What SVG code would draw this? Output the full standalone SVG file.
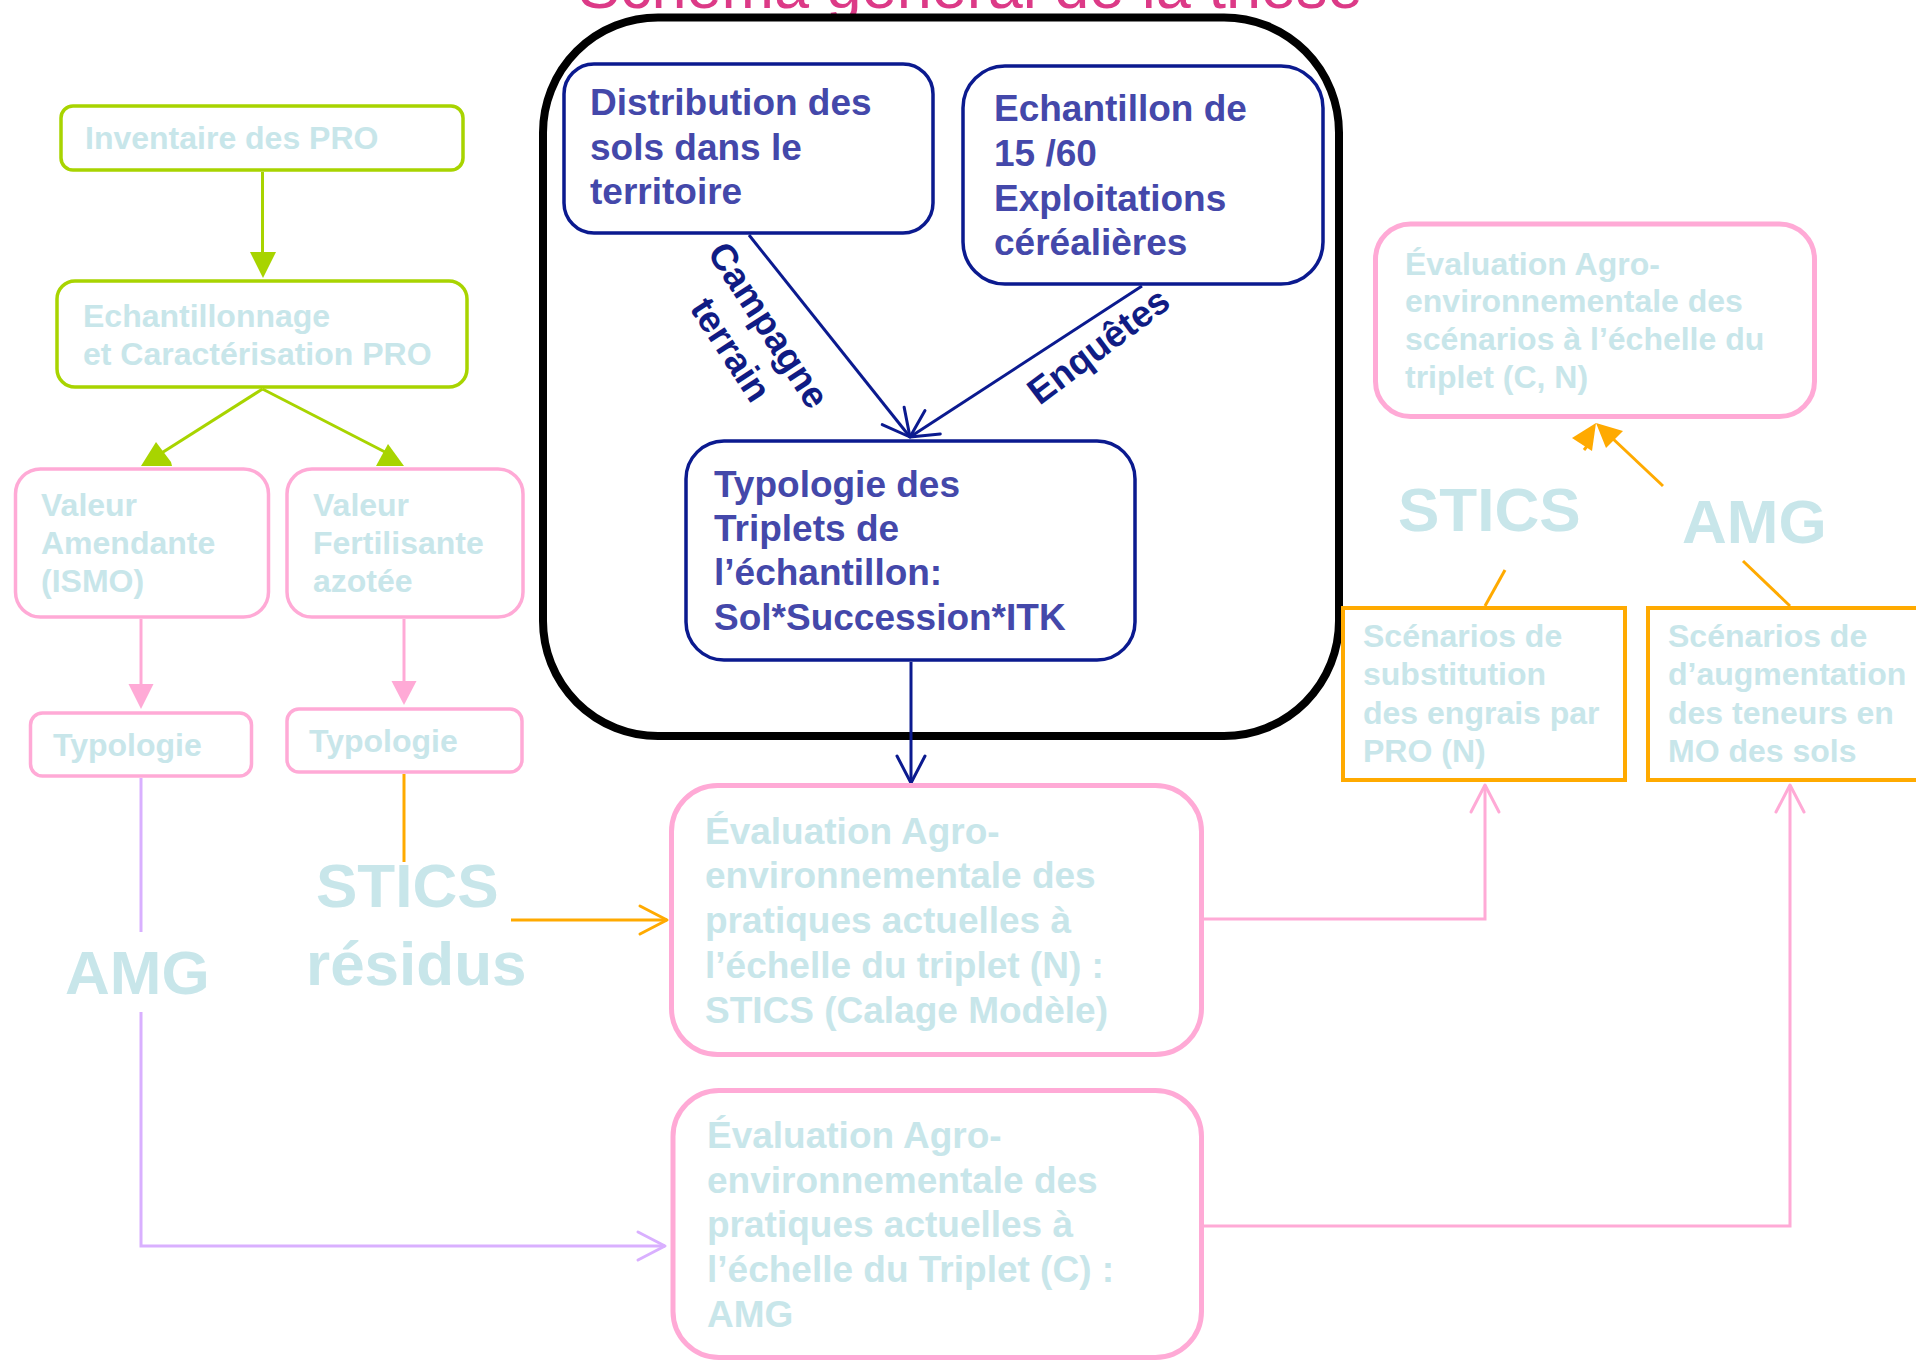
<svg xmlns="http://www.w3.org/2000/svg" width="1916" height="1362" viewBox="0 0 1916 1362">
<style>
text{font-family:"Liberation Sans",Arial,sans-serif;font-weight:bold}
.lt{fill:#c8e6ea}
.f32{font-size:32px}
.f37{font-size:37px}
.big{font-size:62px}
.nv{fill:#4448aa;font-size:37px}
.lab{fill:#101c84;font-size:37px}
.title{font-weight:normal;font-size:63px;fill:#dc3a87}
.green{fill:#fff;stroke:#a8d400;stroke-width:3.5}
.pink{fill:#fff;stroke:#ffaad6;stroke-width:3.5}
.pinkb{fill:#fff;stroke:#ffaad6;stroke-width:5}
.navy{fill:#fff;stroke:#0b1a8f;stroke-width:3.5}
.orange{fill:#fff;stroke:#ffaa00;stroke-width:4}
.c{fill:none;stroke-width:3}
</style>
<defs>
<marker id="mNavy" markerUnits="userSpaceOnUse" markerWidth="34" markerHeight="32" refX="30" refY="15" orient="auto" overflow="visible"><path d="M3,1 L30,15 L3,29" fill="none" stroke="#0b1a8f" stroke-width="3" stroke-linecap="round" stroke-linejoin="round"/></marker>
<marker id="mPink" markerUnits="userSpaceOnUse" markerWidth="34" markerHeight="32" refX="30" refY="15" orient="auto" overflow="visible"><path d="M3,1 L30,15 L3,29" fill="none" stroke="#ffaad6" stroke-width="3" stroke-linecap="round" stroke-linejoin="round"/></marker>
<marker id="mOrange" markerUnits="userSpaceOnUse" markerWidth="34" markerHeight="32" refX="30" refY="15" orient="auto" overflow="visible"><path d="M3,1 L30,15 L3,29" fill="none" stroke="#ffaa00" stroke-width="3" stroke-linecap="round" stroke-linejoin="round"/></marker>
<marker id="mPurple" markerUnits="userSpaceOnUse" markerWidth="34" markerHeight="32" refX="30" refY="15" orient="auto" overflow="visible"><path d="M3,1 L30,15 L3,29" fill="none" stroke="#d9b0ff" stroke-width="3" stroke-linecap="round" stroke-linejoin="round"/></marker>
</defs>
<rect width="1916" height="1362" fill="#fff"/>
<text class="title" x="578" y="7.5">Schéma général de la thèse</text>
<g id="container">
<rect x="543" y="17.5" width="796" height="718.5" rx="115" fill="#fff" stroke="#000" stroke-width="8"/>
</g>
<g id="connectors">
<path class="c" stroke="#a8d400" d="M262.5,172 V253"/>
<polygon fill="#a8d400" points="250,252 276,252 263,278"/>
<path class="c" stroke="#a8d400" d="M262.5,389 L160,454"/>
<polygon fill="#a8d400" points="141,466 156,442 171,462 172,466"/>
<path class="c" stroke="#a8d400" d="M262.5,389 L385,452"/>
<polygon fill="#a8d400" points="376,466 388,444 404,466"/>
<path class="c" stroke="#ffaad6" d="M141,619 V685"/>
<polygon fill="#ffaad6" points="128.5,684 153.5,684 141,709"/>
<path class="c" stroke="#ffaad6" d="M404,619 V682"/>
<polygon fill="#ffaad6" points="391.5,681 416.5,681 404,705"/>
<path class="c" stroke="#d9b0ff" d="M141,778 V932"/>
<path class="c" stroke="#d9b0ff" d="M141,1012 V1246 H665" marker-end="url(#mPurple)"/>
<path class="c" stroke="#ffaa00" d="M404,774 V862"/>
<path class="c" stroke="#ffaa00" d="M511,920 H667" marker-end="url(#mOrange)"/>
<path class="c" stroke="#0b1a8f" d="M749,235 L910,437" marker-end="url(#mNavy)"/>
<path class="c" stroke="#0b1a8f" d="M1142,286 L910,437" marker-end="url(#mNavy)"/>
<path class="c" stroke="#0b1a8f" d="M911,662 V783" marker-end="url(#mNavy)"/>
<path class="c" stroke="#ffaad6" d="M1204,919 H1485 V785" marker-end="url(#mPink)"/>
<path class="c" stroke="#ffaad6" d="M1204,1226 H1790 V785" marker-end="url(#mPink)"/>
<path class="c" stroke="#ffaa00" stroke-width="4" d="M1485,606 L1505,570"/>
<path class="c" stroke="#ffaa00" stroke-width="4" d="M1790,606 L1743,561"/>
<path class="c" stroke="#ffaa00" stroke-width="4" d="M1663,486 L1610,436"/>
<polygon fill="#ffaa00" points="1596,423 1623,431 1606,448"/>
<polygon fill="#ffaa00" points="1572,438 1596,423 1592,451"/>
<path class="c" stroke="#ffaa00" d="M1588,445 L1584,450"/>
</g>
<g id="n-inventaire"><rect class="green" x="61" y="106" width="402" height="64" rx="12"/><text class="lt f32" x="85" y="149">Inventaire des PRO</text></g>
<g id="n-echantillonnage"><rect class="green" x="57" y="281" width="410" height="106" rx="18"/><text class="lt f32"><tspan x="83" y="327">Echantillonnage</tspan><tspan x="83" y="365">et Caractérisation PRO</tspan></text></g>
<g id="n-valeur-amendante"><rect class="pink" x="15.5" y="469" width="253" height="148" rx="25"/><text class="lt f32"><tspan x="41" y="516">Valeur</tspan><tspan x="41" y="554">Amendante</tspan><tspan x="41" y="592">(ISMO)</tspan></text></g>
<g id="n-valeur-fertilisante"><rect class="pink" x="287" y="469" width="236" height="148" rx="25"/><text class="lt f32"><tspan x="313" y="516">Valeur</tspan><tspan x="313" y="554">Fertilisante</tspan><tspan x="313" y="592">azotée</tspan></text></g>
<g id="n-typologie-1"><rect class="pink" x="30.5" y="713" width="221" height="63" rx="12"/><text class="lt f32" x="53" y="756">Typologie</text></g>
<g id="n-typologie-2"><rect class="pink" x="287" y="709" width="235" height="63" rx="12"/><text class="lt f32" x="309" y="752">Typologie</text></g>
<g id="l-amg-left"><text class="lt big" x="65" y="994">AMG</text></g>
<g id="l-stics-residus"><text class="lt big"><tspan x="316" y="907">STICS</tspan><tspan x="306" y="985">résidus</tspan></text></g>
<g id="n-distribution"><rect class="navy" x="564" y="64" width="369" height="169" rx="30"/><text class="nv"><tspan x="590" y="115">Distribution des</tspan><tspan x="590" y="159.5">sols dans le</tspan><tspan x="590" y="204">territoire</tspan></text></g>
<g id="n-echantillon"><rect class="navy" x="963" y="66" width="360" height="218" rx="42"/><text class="nv"><tspan x="994" y="121">Echantillon de</tspan><tspan x="994" y="166">15 /60</tspan><tspan x="994" y="211">Exploitations</tspan><tspan x="994" y="255">céréalières</tspan></text></g>
<g id="l-campagne"><text class="lab" text-anchor="middle" transform="translate(758,332) rotate(57)"><tspan x="0" y="0">Campagne</tspan><tspan x="0" y="45">terrain</tspan></text></g>
<g id="l-enquetes"><text class="lab" text-anchor="middle" transform="translate(1106,356) rotate(-37)">Enquêtes</text></g>
<g id="n-typologie-triplets"><rect class="navy" x="686" y="441" width="449" height="219" rx="38"/><text class="nv"><tspan x="714" y="497">Typologie des</tspan><tspan x="714" y="541">Triplets de</tspan><tspan x="714" y="585">l’échantillon:</tspan><tspan x="714" y="630">Sol*Succession*ITK</tspan></text></g>
<g id="n-eval-n"><rect class="pinkb" x="671.5" y="785.5" width="530" height="269" rx="46"/><text class="lt f37"><tspan x="705" y="844">Évaluation Agro-</tspan><tspan x="705" y="888">environnementale des</tspan><tspan x="705" y="933">pratiques actuelles à</tspan><tspan x="705" y="978">l’échelle du triplet (N) :</tspan><tspan x="705" y="1023">STICS (Calage Modèle)</tspan></text></g>
<g id="n-eval-c"><rect class="pinkb" x="673" y="1090.5" width="528.5" height="267" rx="46"/><text class="lt f37"><tspan x="707" y="1148">Évaluation Agro-</tspan><tspan x="707" y="1193">environnementale des</tspan><tspan x="707" y="1237">pratiques actuelles à</tspan><tspan x="707" y="1282">l’échelle du Triplet (C) :</tspan><tspan x="707" y="1327">AMG</tspan></text></g>
<g id="n-eval-scenarios"><rect class="pinkb" x="1375.5" y="224" width="439" height="192.5" rx="35"/><text class="lt f32"><tspan x="1405" y="275">Évaluation Agro-</tspan><tspan x="1405" y="312">environnementale des</tspan><tspan x="1405" y="350">scénarios à l’échelle du</tspan><tspan x="1405" y="388">triplet (C, N)</tspan></text></g>
<g id="l-stics-right"><text class="lt big" x="1398" y="531">STICS</text></g>
<g id="l-amg-right"><text class="lt big" x="1682" y="543">AMG</text></g>
<g id="n-substitution"><rect class="orange" x="1343" y="608" width="282" height="172"/><text class="lt f32"><tspan x="1363" y="647">Scénarios de</tspan><tspan x="1363" y="685">substitution</tspan><tspan x="1363" y="724">des engrais par</tspan><tspan x="1363" y="762">PRO (N)</tspan></text></g>
<g id="n-augmentation"><rect class="orange" x="1648" y="608" width="300" height="172"/><text class="lt f32"><tspan x="1668" y="647">Scénarios de</tspan><tspan x="1668" y="685">d’augmentation</tspan><tspan x="1668" y="724">des teneurs en</tspan><tspan x="1668" y="762">MO des sols</tspan></text></g>
</svg>
